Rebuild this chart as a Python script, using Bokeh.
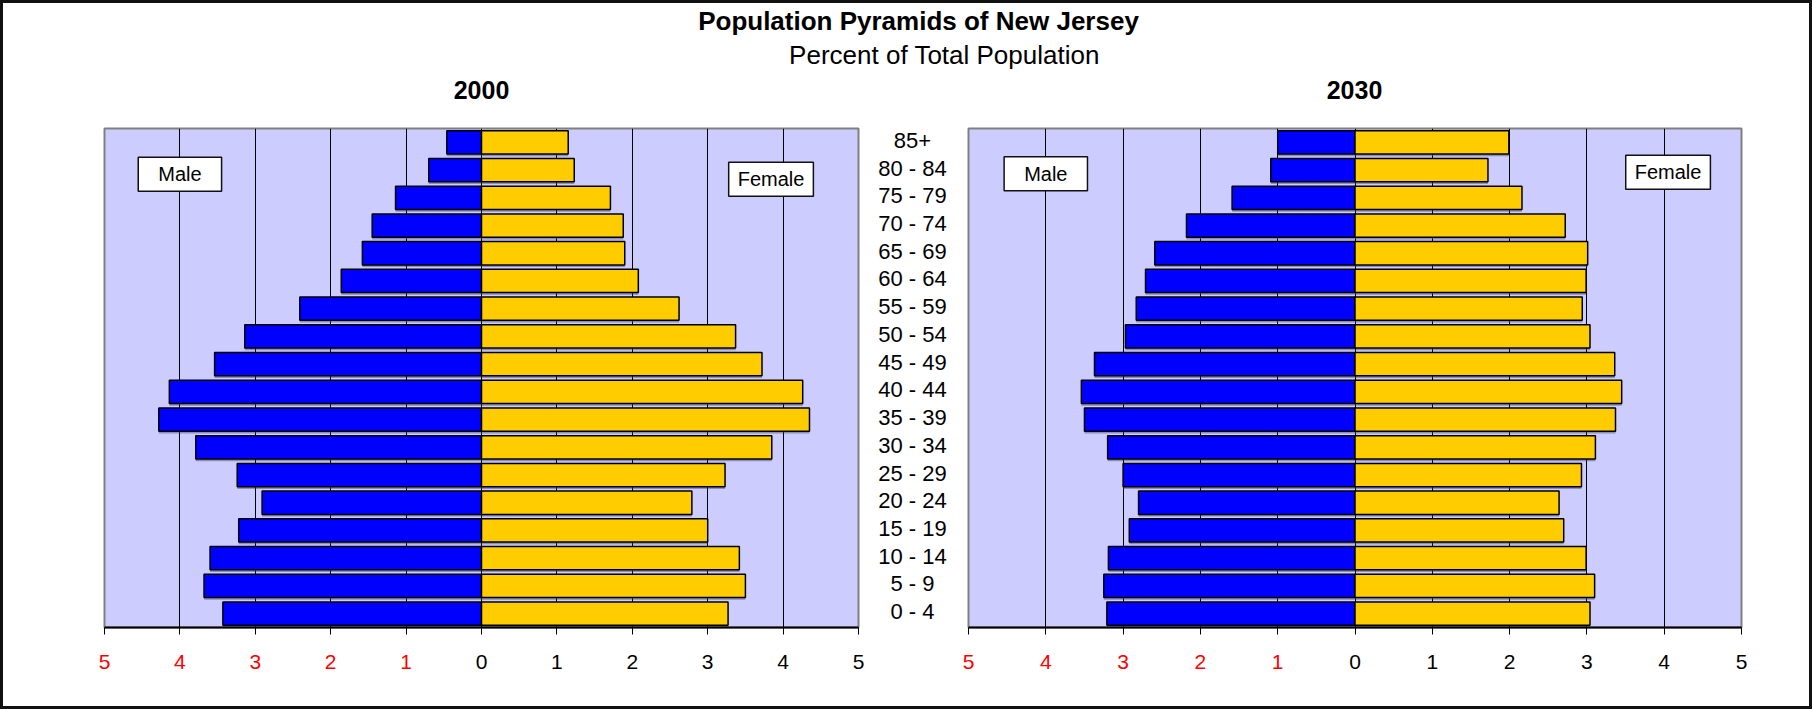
from bokeh.plotting import figure
from bokeh.layouts import row, column
from bokeh.models import ColumnDataSource, FactorRange, Range1d, FixedTicker, Label, LinearAxis
from bokeh.transform import dodge
from bokeh.core.properties import value
from bokeh.embed import file_html
from bokeh.resources import INLINE

# ---------------- data ----------------
ages = ["0 - 4", "5 - 9", "10 - 14", "15 - 19", "20 - 24", "25 - 29", "30 - 34",
        "35 - 39", "40 - 44", "45 - 49", "50 - 54", "55 - 59", "60 - 64", "65 - 69",
        "70 - 74", "75 - 79", "80 - 84", "85+"]
male_2000 = [3.43, 3.68, 3.60, 3.22, 2.91, 3.24, 3.79, 4.28, 4.14, 3.54, 3.14, 2.41,
             1.86, 1.58, 1.45, 1.14, 0.70, 0.46]
female_2000 = [3.27, 3.50, 3.42, 3.00, 2.79, 3.23, 3.85, 4.35, 4.26, 3.72, 3.37, 2.62,
               2.08, 1.90, 1.88, 1.71, 1.23, 1.15]
male_2030 = [3.21, 3.25, 3.19, 2.92, 2.80, 3.00, 3.20, 3.50, 3.54, 3.37, 2.97, 2.83,
             2.71, 2.59, 2.18, 1.59, 1.09, 1.00]
female_2030 = [3.04, 3.10, 2.99, 2.70, 2.64, 2.93, 3.11, 3.37, 3.45, 3.36, 3.04, 2.94,
               2.99, 3.01, 2.72, 2.16, 1.72, 1.99]
ticks = [-5, -4, -3, -2, -1, 0, 1, 2, 3, 4, 5]
grid_ticks = [-4, -3, -2, -1, 0, 1, 2, 3, 4]

FONT = "Liberation Sans"
MALE_C = "#0000FF"
FEMALE_C = "#FFCC00"
BG = "#CCCCFF"
TICK_FS = "21px"
STANDOFF = 20


def make_panel(male, female, width, height, mbl, mbr, mbt, mbb, male_box, female_box):
    src = ColumnDataSource(dict(age=ages, male=[-v for v in male], female=female))
    p = figure(width=width, height=height, y_range=FactorRange(*ages), x_range=Range1d(-5, 5),
               x_axis_location="below", y_axis_location=None,
               output_backend="svg", toolbar_location=None,
               min_border_left=mbl, min_border_right=mbr,
               min_border_top=mbt, min_border_bottom=mbb)
    p.background_fill_color = BG
    p.border_fill_color = "white"
    p.outline_line_color = "#808080"
    p.outline_line_width = 2
    p.ygrid.visible = False
    p.xgrid.ticker = FixedTicker(ticks=grid_ticks)
    p.xgrid.grid_line_color = "black"
    p.xgrid.grid_line_width = 1
    p.xgrid.grid_line_alpha = 1.0

    # main axis: line, ticks and black labels for the female side
    ax = p.xaxis[0]
    ax.ticker = FixedTicker(ticks=ticks)
    ax.major_label_overrides = {t: "" for t in ticks if t < 0}
    ax.axis_line_color = "black"
    ax.axis_line_width = 2
    ax.major_tick_line_color = "black"
    ax.major_tick_line_width = 1
    ax.major_tick_out = 7
    ax.major_tick_in = 0
    ax.minor_tick_line_color = None
    ax.major_label_standoff = STANDOFF
    ax.major_label_text_font = FONT
    ax.major_label_text_font_size = TICK_FS
    ax.major_label_text_color = "black"

    # second axis: red labels for the male side, pulled up onto the same row
    neg = [t for t in ticks if t < 0]
    ax2 = LinearAxis(ticker=FixedTicker(ticks=neg),
                     major_label_overrides={t: str(abs(t)) for t in neg},
                     axis_line_color=None, major_tick_line_color=None,
                     minor_tick_line_color=None, major_tick_out=0, major_tick_in=0,
                     major_label_standoff=-17,
                     major_label_text_font=FONT, major_label_text_font_size=TICK_FS,
                     major_label_text_color="#FF0000")
    p.add_layout(ax2, "below")

    # shadows
    p.hbar(y=dodge("age", -0.08, range=p.y_range), left="male", right=0, height=0.84,
           source=src, fill_color="#404060", fill_alpha=0.45, line_color=None)
    p.hbar(y=dodge("age", -0.08, range=p.y_range), left=0, right="female", height=0.84,
           source=src, fill_color="#404060", fill_alpha=0.45, line_color=None)
    # bars
    p.hbar(y="age", left="male", right=0, height=0.84, source=src,
           fill_color=MALE_C, line_color="black", line_width=1.5)
    p.hbar(y="age", left=0, right="female", height=0.84, source=src,
           fill_color=FEMALE_C, line_color="black", line_width=1.5)

    for (bx, by, txt, padx) in (male_box + ("Male", 20), female_box + ("Female", 9)):
        p.add_layout(Label(x=bx, y=by, text=txt, text_align="center", text_baseline="middle",
                           text_font=FONT, text_font_size="20px", text_color="black",
                           background_fill_color="white", border_line_color="#111111",
                           border_line_width=1.5, padding=dict(x=padx, y=6)))
    return p


left = make_panel(male_2000, female_2000, 867, 599, 101, 12, 18, 79,
                  (-4.0, 16.35), (3.84, 16.17))
right = make_panel(male_2030, female_2030, 855, 599, 14, 68, 21, 79,
                   (-4.0, 16.37), (4.05, 16.42))

mid = figure(width=84, height=599, y_range=left.y_range, x_range=Range1d(0, 1),
             x_axis_location=None, y_axis_location=None,
             output_backend="svg", toolbar_location=None,
             min_border_left=0, min_border_right=0, min_border_top=18, min_border_bottom=79)
mid.outline_line_color = None
mid.background_fill_color = "white"
mid.border_fill_color = "white"
mid.grid.visible = False
mid_src = ColumnDataSource(dict(age=ages, x=[0.5] * len(ages)))
mid.text(x="x", y="age", text="age", source=mid_src, text_align="center",
         text_baseline="middle", text_font=value(FONT), text_font_size="22px",
         text_color="black", y_offset=-2)

header = figure(width=1806, height=104, x_range=Range1d(3, 1809), y_range=Range1d(107, 3),
                x_axis_location=None, y_axis_location=None,
                output_backend="svg", toolbar_location=None, min_border=0)
header.outline_line_color = None
header.grid.visible = False
header.background_fill_color = "white"
for (tx, ty, txt, style, size) in ((918, 20, "Population Pyramids of New Jersey", "bold", "26px"),
                                   (944, 54, "Percent of Total Population", "normal", "26px"),
                                   (481, 89, "2000", "bold", "25px"),
                                   (1354, 89, "2030", "bold", "25px")):
    header.add_layout(Label(x=tx, y=ty, text=txt, text_align="center", text_baseline="middle",
                            text_font=FONT, text_font_style=style,
                            text_font_size=size, text_color="black"))

layout = column(header, row(left, mid, right),
                styles={"border": "3px solid #111111"})

open("out.html", "w").write(file_html(layout, INLINE))
